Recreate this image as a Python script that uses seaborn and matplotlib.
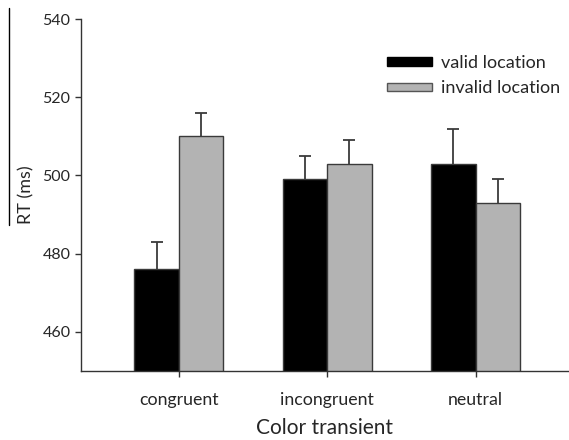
import numpy as np
import pandas as pd
import seaborn as sns
import matplotlib.pyplot as plt
from matplotlib.patches import Patch
from matplotlib.lines import Line2D

# dane
conditions = ['congruent', 'incongruent', 'neutral']
locations = ['valid location', 'invalid location']
rt_valid = [476, 499, 503]
rt_invalid = [510, 503, 493]
se_valid = [7, 6, 9]
se_invalid = [6, 6, 6]

df = pd.DataFrame({
    'Color transient': conditions * 2,
    'location': [locations[0]] * 3 + [locations[1]] * 3,
    'RT': rt_valid + rt_invalid,
})
errs = se_valid + se_invalid

sns.set_style('ticks')
plt.rcParams['font.family'] = ['Lato', 'DejaVu Sans']

fig = plt.figure(figsize=(5.69, 4.4), dpi=100, facecolor='white')
ax = fig.add_axes([81 / 569, 69 / 440, 488 / 569, 352 / 440])

colors = {'valid location': 'black', 'invalid location': '#b3b3b3'}
sns.barplot(data=df, x='Color transient', y='RT', hue='location',
            palette=colors, width=0.6, errorbar=None, ax=ax,
            edgecolor='#3a3a3a', linewidth=1.0, legend=False, zorder=2)

# slupki bledow (tylko w gore)
bars = [b for cont in list(ax.containers) for b in cont]
for bar, e in zip(bars, errs):
    x = bar.get_x() + bar.get_width() / 2
    eb = ax.errorbar(x, bar.get_height(), yerr=[[0], [e]], fmt='none',
                     ecolor='#3a3a3a', elinewidth=1.3, capsize=4.3,
                     capthick=1.3, zorder=1)
    eb[1][0].set_visible(False)  # dolna kreska niepotrzebna

ax.set_ylim(450, 540)
ax.set_xlim(-0.66, 2.63)
ax.set_yticks([460, 480, 500, 520, 540])
ax.set_ylabel('RT (ms)', fontsize=13, labelpad=6)
ax.set_xlabel('Color transient', fontsize=15, labelpad=7)
ax.tick_params(axis='both', labelsize=11.5, length=4, width=1, color='#333333')
ax.tick_params(axis='x', pad=11, labelsize=12.8)
for s in ['top', 'right']:
    ax.spines[s].set_visible(False)
for s in ['left', 'bottom']:
    ax.spines[s].set_color('#333333')
    ax.spines[s].set_linewidth(1)

handles = [Patch(facecolor='black', edgecolor='black'),
           Patch(facecolor='#b3b3b3', edgecolor='#555555')]
fig.legend(handles, locations, loc='upper left',
           bbox_to_anchor=(380 / 569, 1 - 48 / 440), frameon=False,
           fontsize=13, handlelength=2.5, handleheight=0.35,
           handletextpad=0.5, labelspacing=0.5, borderaxespad=0)

# linia przy etykiecie osi Y
fig.add_artist(Line2D([9 / 569, 9 / 569], [1 - 8 / 440, 1 - 225 / 440],
                      color='black', linewidth=1))

plt.savefig('out.png', dpi=100, facecolor='white')
